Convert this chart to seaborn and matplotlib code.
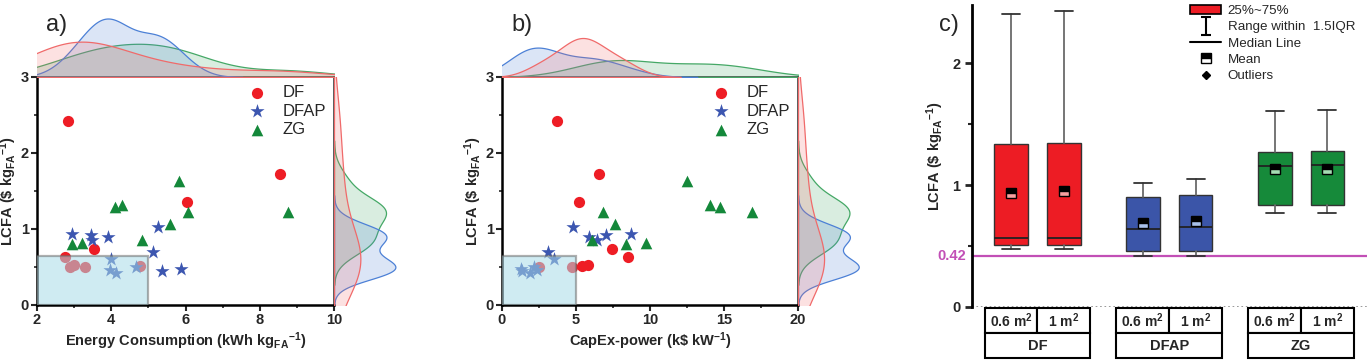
import matplotlib
matplotlib.use("Agg")
import matplotlib.pyplot as plt
from matplotlib.patches import Rectangle, Patch
from matplotlib.lines import Line2D
from matplotlib.path import Path
from matplotlib.ticker import MultipleLocator
import pandas as pd
import seaborn as sns

# ---- data ----
groups = ["DF", "DFAP", "ZG"]

lcfa_df = [2.42, 1.73, 1.35, 0.74, 0.63, 0.50, 0.52, 0.50, 0.51]
energy_df = [2.83, 8.55, 6.05, 3.54, 2.75, 2.89, 3.00, 3.29, 4.78]
capex_df = [3.74, 6.55, 5.18, 7.41, 8.54, 2.52, 5.83, 4.71, 5.43]

lcfa_dfap = [1.03, 0.93, 0.92, 0.90, 0.86, 0.70, 0.60, 0.50, 0.48, 0.46, 0.45, 0.42]
energy_dfap = [5.27, 2.93, 3.45, 3.90, 3.47, 5.13, 4.00, 4.67, 5.88, 3.97, 5.38, 4.13]
capex_dfap = [4.82, 8.69, 7.03, 5.88, 6.40, 3.09, 3.51, 2.18, 1.26, 2.39, 1.33, 1.89]

lcfa_zg = [1.63, 1.31, 1.29, 1.23, 1.22, 1.07, 0.86, 0.81, 0.80]
energy_zg = [5.83, 4.30, 4.10, 6.08, 8.77, 5.57, 4.82, 3.20, 2.93]
capex_zg = [12.48, 14.05, 14.73, 6.85, 16.91, 7.64, 6.06, 9.73, 8.36]

# box statistics for panel c
box_labels = ["0.6 m$^2$", "1 m$^2$"] * 3
box_q1 = [0.51, 0.51, 0.46, 0.46, 0.84, 0.84]
box_med = [0.57, 0.57, 0.64, 0.66, 1.16, 1.17]
box_q3 = [1.34, 1.35, 0.90, 0.92, 1.27, 1.28]
box_lo = [0.48, 0.48, 0.42, 0.42, 0.77, 0.77]
box_hi = [2.41, 2.43, 1.02, 1.05, 1.61, 1.62]
box_mean = [0.94, 0.95, 0.69, 0.71, 1.13, 1.13]
target_lcfa = 0.42

# ---- style ----
sns.set_style("ticks")
plt.rcParams["font.family"] = ["Liberation Sans", "DejaVu Sans"]
plt.rcParams["mathtext.fontset"] = "custom"
plt.rcParams["mathtext.rm"] = "Liberation Sans"
plt.rcParams["mathtext.bf"] = "Liberation Sans:bold"
plt.rcParams["mathtext.it"] = "Liberation Sans:italic"
plt.rcParams["mathtext.default"] = "bf"

pt_colors = {"DF": "#ee1d25", "DFAP": "#3c56b0", "ZG": "#14883a"}
kde_colors = {"DF": "#f06a6a", "DFAP": "#4c80d6", "ZG": "#45a866"}
pt_markers = {"DF": "o", "DFAP": "*", "ZG": "^"}
pt_sizes = {"DF": 65, "DFAP": 115, "ZG": 70}
box_colors = ["#ed1c24", "#ed1c24", "#3b55a8", "#3b55a8", "#168a3a", "#168a3a"]
mean_alt = ["#f7a0a0", "#f7a0a0", "#a9c0ea", "#a9c0ea", "#a5dcb3", "#a5dcb3"]

df = pd.DataFrame({
    "group": ["DF"] * len(lcfa_df) + ["DFAP"] * len(lcfa_dfap) + ["ZG"] * len(lcfa_zg),
    "lcfa": lcfa_df + lcfa_dfap + lcfa_zg,
    "energy": energy_df + energy_dfap + energy_zg,
    "capex": capex_df + capex_dfap + capex_zg,
})

W, H = 1367, 360
fig = plt.figure(figsize=(W / 100, H / 100), dpi=100)

ylabel = r"LCFA (\$ kg$_{FA}{}^{-1}$)"


def frac(x0, y0, x1, y1):
    return [x0 / W, 1 - y1 / H, (x1 - x0) / W, (y1 - y0) / H]


def joint_panel(left, right, xcol, xlim, xmajor, xminor, xlabel, rect_x, top_fill, right_fill, tag, tag_x):
    ax = fig.add_axes(frac(left, 77, right, 305))
    ax_top = fig.add_axes(frac(left, 12, right, 77), sharex=ax)
    ax_rt = fig.add_axes(frac(right, 77, right + 66, 305), sharey=ax)

    for g in groups:
        sub = df[df.group == g]
        sns.scatterplot(data=sub, x=xcol, y="lcfa", ax=ax, color=pt_colors[g],
                        marker=pt_markers[g], s=pt_sizes[g], linewidth=0,
                        label=g, zorder=2)
    ax.add_patch(Rectangle((xlim[0], 0), rect_x - xlim[0], 0.64, facecolor="#a9dbe9",
                           alpha=0.55, edgecolor="#6e6e6e", linewidth=1.6, zorder=4))

    sns.kdeplot(data=df, x=xcol, hue="group", hue_order=groups, palette=kde_colors,
                fill=True, alpha=0.2, linewidth=0.9, common_norm=False,
                ax=ax_top, legend=False)
    sns.kdeplot(data=df, y="lcfa", hue="group", hue_order=groups, palette=kde_colors,
                fill=True, alpha=0.2, linewidth=0.9, common_norm=False,
                ax=ax_rt, legend=False)

    ax.set_xlim(*xlim)
    ax.set_ylim(0, 3)
    top = ax_top.get_ylim()[1] / 1.05
    ax_top.set_ylim(0, top / top_fill)
    rt = ax_rt.get_xlim()[1] / 1.05
    ax_rt.set_xlim(0, rt / right_fill)
    ax_top.axis("off")
    ax_rt.axis("off")

    ax.xaxis.set_major_locator(MultipleLocator(xmajor))
    ax.xaxis.set_minor_locator(MultipleLocator(xminor))
    ax.yaxis.set_major_locator(MultipleLocator(1))
    ax.yaxis.set_minor_locator(MultipleLocator(0.5))
    ax.tick_params(which="major", length=4, width=1.5, labelsize=10.5, pad=2)
    ax.tick_params(which="minor", length=2.5, width=1.2)
    for lab in ax.get_xticklabels() + ax.get_yticklabels():
        lab.set_fontweight("bold")
    for s in ["left", "bottom"]:
        ax.spines[s].set_linewidth(1.8)
        ax.spines[s].set_color("black")
    for s in ["top", "right"]:
        ax.spines[s].set_linewidth(1.2)
        ax.spines[s].set_color("#404040")
    ax.set_xlabel(xlabel, fontsize=10.5, fontweight="bold", labelpad=2)
    ax.set_ylabel(ylabel, fontsize=10.5, fontweight="bold", labelpad=1)
    ax.legend(loc="upper right", frameon=False, fontsize=12, handletextpad=0.5,
              labelspacing=0.2, borderaxespad=0.1)
    fig.text(tag_x, 0.93, tag, fontsize=17, ha="left", va="center")


joint_panel(37, 334, "energy", (2, 10), 2, 1,
            r"Energy Consumption (kWh kg$_{FA}{}^{-1}$)", 5, 0.9, 0.93, "a)", 0.034)
joint_panel(502, 798, "capex", (0, 20), 5, 2.5,
            r"CapEx-power (k\$ kW$^{-1}$)", 5, 0.6, 0.92, "b)", 0.374)

# ---- panel c ----
positions = [0, 1, 2.5, 3.5, 5, 6]
axc = fig.add_axes(frac(972, 5, W, 307))
stats = []
for i in range(len(positions)):
    stats.append(dict(q1=box_q1[i], med=box_med[i], q3=box_q3[i], whislo=box_lo[i],
                      whishi=box_hi[i], mean=box_mean[i], fliers=[]))
bp = axc.bxp(stats, positions=positions, widths=0.64, capwidths=0.34, patch_artist=True,
             showmeans=True, showfliers=False,
             boxprops=dict(edgecolor="#333333", linewidth=1.0),
             whiskerprops=dict(color="#6a6a6a", linewidth=1.3),
             capprops=dict(color="#333333", linewidth=1.3),
             medianprops=dict(color="#222222", linewidth=1.3),
             meanprops=dict(marker="s", markersize=7, markerfacecolor="black",
                            markeredgecolor="black", fillstyle="top"))
for patch, c in zip(bp["boxes"], box_colors):
    patch.set_facecolor(c)
for m, c in zip(bp["means"], mean_alt):
    m.set_markerfacecoloralt(c)
    m.set_zorder(5)

axc.axhline(target_lcfa, color="#c24fb6", linewidth=1.6, zorder=1)
axc.axhline(0, color="#888888", linestyle=":", linewidth=1.2)
axc.set_xlim(-0.74, 6.75)
axc.set_ylim(0, 2.48)
axc.set_xticks([])
axc.yaxis.set_major_locator(MultipleLocator(1))
axc.yaxis.set_minor_locator(MultipleLocator(0.5))
axc.tick_params(axis="y", which="major", length=5, width=2, labelsize=10.5)
axc.tick_params(axis="y", which="minor", length=3, width=1.5)
for lab in axc.get_yticklabels():
    lab.set_fontweight("bold")
for s in ["top", "right", "bottom"]:
    axc.spines[s].set_visible(False)
axc.spines["left"].set_linewidth(2)
axc.spines["left"].set_color("black")
axc.text(-0.015, target_lcfa, f"{target_lcfa:.2f}", transform=axc.get_yaxis_transform(),
         ha="right", va="center", color="#c24fb6", fontsize=10.5, fontweight="bold")
axc.set_ylabel(ylabel, fontsize=10.5, fontweight="bold", labelpad=4)
fig.text(0.687, 0.93, "c)", fontsize=17, ha="left", va="center")

ibeam = Path([(-0.6, 1), (0.6, 1), (0, 1), (0, -1), (-0.6, -1), (0.6, -1)],
             [Path.MOVETO, Path.LINETO, Path.MOVETO, Path.LINETO, Path.MOVETO, Path.LINETO])
handles = [
    Patch(facecolor="#ed1c24", edgecolor="black", linewidth=1.2),
    Line2D([], [], marker=ibeam, markersize=13, linestyle="none", color="black",
           markeredgewidth=1.5),
    Line2D([], [], color="black", linewidth=1.5),
    Line2D([], [], marker="s", markersize=7, linestyle="none", markerfacecolor="black",
           markerfacecoloralt="white", markeredgecolor="black", fillstyle="top"),
    Line2D([], [], marker="D", markersize=4, linestyle="none", color="black"),
]
labels = ["25%~75%", "Range within  1.5IQR", "Median Line", "Mean", "Outliers"]
fig.legend(handles, labels, loc="upper left", bbox_to_anchor=(1185 / W, 1.002),
           frameon=False, fontsize=9.6, handlelength=2.3, handletextpad=0.5,
           labelspacing=0.3, borderaxespad=0)

# category table under panel c
axt = fig.add_axes(frac(972, 308, W, 358), sharex=axc)
axt.set_ylim(0, 2)
axt.axis("off")
for gi, g in enumerate(groups):
    p0, p1 = positions[2 * gi], positions[2 * gi + 1]
    for j, p in enumerate((p0, p1)):
        axt.add_patch(Rectangle((p - 0.5, 1), 1, 1, facecolor="white", edgecolor="black",
                                linewidth=1.5, clip_on=False))
        axt.text(p, 1.5, box_labels[2 * gi + j], ha="center", va="center",
                 fontsize=10, fontweight="bold")
    axt.add_patch(Rectangle((p0 - 0.5, 0), 2, 1, facecolor="white", edgecolor="black",
                            linewidth=1.5, clip_on=False))
    axt.text((p0 + p1) / 2, 0.5, g, ha="center", va="center", fontsize=10.5,
             fontweight="bold")

fig.savefig("out.png", dpi=100)
